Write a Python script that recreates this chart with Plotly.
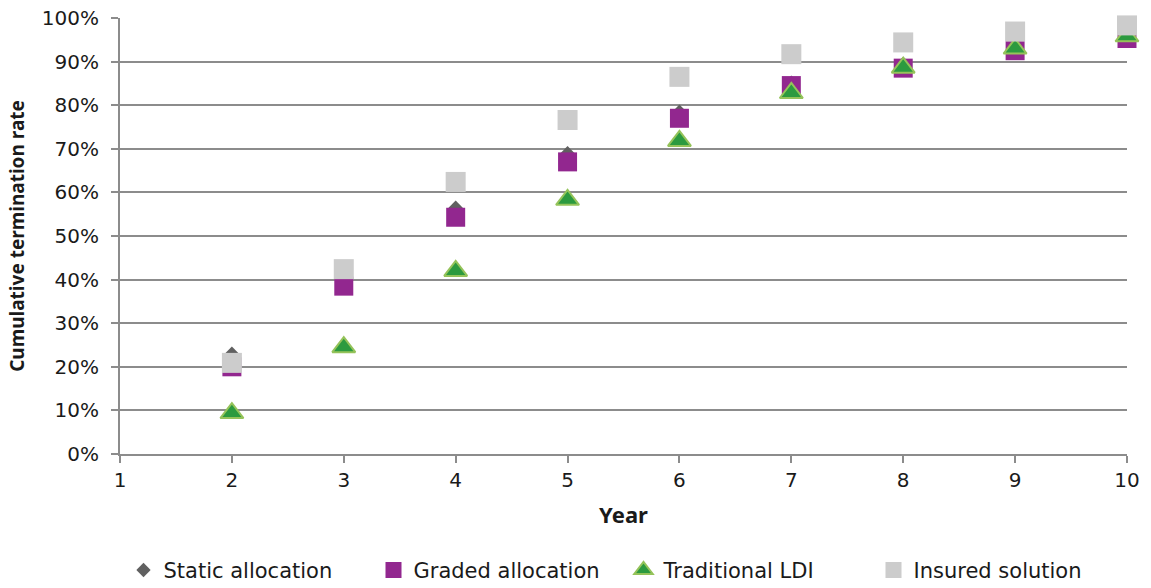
import plotly.graph_objects as go

# Cumulative termination rate by year for each de-risking strategy
years = [2, 3, 4, 5, 6, 7, 8, 9, 10]
static_allocation = [0.23, 0.39, 0.565, 0.69, 0.785, 0.852, 0.895, 0.93, 0.96]
graded_allocation = [0.20, 0.385, 0.543, 0.67, 0.77, 0.845, 0.885, 0.925, 0.953]
traditional_ldi = [0.094, 0.245, 0.42, 0.583, 0.718, 0.828, 0.886, 0.93, 0.958]
insured_solution = [0.209, 0.424, 0.624, 0.766, 0.865, 0.917, 0.944, 0.969, 0.983]

y_ticks = [i / 10 for i in range(11)]
x_ticks = list(range(1, 11))

GRID = "#8C8C8C"
FONT = "DejaVu Sans"

fig = go.Figure()
fig.add_trace(go.Scatter(
    x=years, y=static_allocation, name="Static allocation", mode="markers",
    marker=dict(symbol="diamond", size=11, color="#606060"), cliponaxis=False,
))
fig.add_trace(go.Scatter(
    x=years, y=graded_allocation, name="Graded allocation", mode="markers",
    marker=dict(symbol="square", size=19, color="#92278F"), cliponaxis=False,
))
fig.add_trace(go.Scatter(
    x=years, y=traditional_ldi, name="Traditional LDI", mode="markers",
    marker=dict(symbol="triangle-up", size=20, color="#2C9A3F",
                line=dict(color="#95C35A", width=2)),
    cliponaxis=False,
))
fig.add_trace(go.Scatter(
    x=years, y=insured_solution, name="Insured solution", mode="markers",
    marker=dict(symbol="square", size=20, color="#CCCCCC"), cliponaxis=False,
))

fig.update_layout(
    width=1151, height=588,
    margin=dict(l=120, r=24, t=18, b=134),
    paper_bgcolor="white", plot_bgcolor="white",
    font=dict(family=FONT, color="#1a1a1a", size=18),
    showlegend=True,
    legend=dict(
        orientation="h", x=0.5, xanchor="center",
        yref="container", y=0.03, yanchor="middle",
        font=dict(family=FONT, size=21, color="#1a1a1a"),
        entrywidth=205, itemsizing="trace",
    ),
    xaxis=dict(
        range=[1, 10], tickvals=x_ticks, ticktext=[str(v) for v in x_ticks],
        showgrid=False, zeroline=False, automargin=False,
        showline=True, linecolor=GRID, linewidth=2,
        ticks="outside", ticklen=7, tickwidth=2, tickcolor=GRID,
        tickfont=dict(family=FONT, size=20),
        title=dict(text="<b>Year</b>", font=dict(family="Noto Sans", size=22), standoff=17),
    ),
    yaxis=dict(
        range=[0, 1], tickvals=y_ticks, tickformat=".0%",
        showgrid=True, gridcolor=GRID, gridwidth=2, zeroline=False, automargin=False,
        showline=True, linecolor=GRID, linewidth=2,
        ticks="outside", ticklen=7, tickwidth=2, tickcolor=GRID,
        ticklabelstandoff=8,
        tickfont=dict(family=FONT, size=20),
        title=dict(text="<b>Cumulative termination rate</b>",
                   font=dict(family="Noto Sans", size=19), standoff=12),
    ),
)

fig.write_html("out.html")
